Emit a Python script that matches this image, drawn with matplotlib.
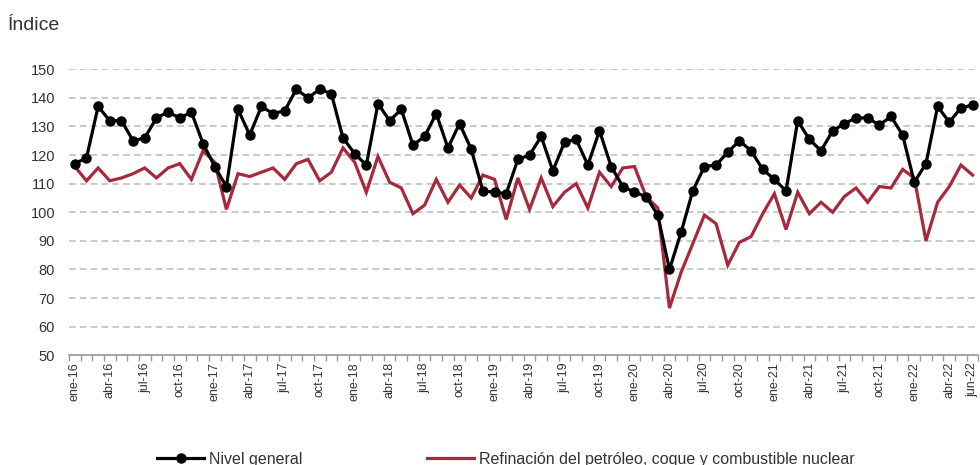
import matplotlib
matplotlib.use("Agg")
import matplotlib.pyplot as plt
import numpy as np

# ------------------------- Data -------------------------

meses = ["ene", "feb", "mar", "abr", "may", "jun",
         "jul", "ago", "sep", "oct", "nov", "dic"]
periodos = [m + "-" + str(a) for a in range(16, 23) for m in meses][:78]

nivel_general = [
    117, 119, 137, 132, 132, 125, 126, 133, 135, 133, 135, 124,   # 2016
    116, 109, 136, 127, 137, 134.5, 135.5, 143, 140, 143, 141.5, 126,   # 2017
    120.5, 116.5, 138, 132, 136, 123.5, 126.5, 134.5, 122.5, 131, 122, 107.5,   # 2018
    107, 106.5, 118.5, 120, 126.5, 114.5, 124.5, 125.5, 116.5, 128.5, 116, 109,   # 2019
    107, 105.5, 99, 80, 93, 107.5, 116, 116.5, 121, 125, 121.5, 115,   # 2020
    111.5, 107.5, 132, 125.5, 121.5, 128.5, 131, 133, 133, 130.5, 133.5, 127,   # 2021
    110.5, 117, 137, 131.5, 136.5, 137.5,   # 2022
]

refinacion = [
    116, 111, 115.5, 111, 112, 113.5, 115.5, 112, 115.5, 117, 111.5, 121.5,   # 2016
    117.5, 101, 113.5, 112.5, 114, 115.5, 111.5, 117, 118.5, 111, 114, 122.5,   # 2017
    117.5, 107, 119.5, 110.5, 108.5, 99.5, 102.5, 111.5, 103.5, 109.5, 105, 113,   # 2018
    111.5, 97.5, 112, 101, 112, 102, 107, 110, 101.5, 114, 109, 115.5,   # 2019
    116, 105.5, 101.5, 66.5, 79, 89, 99, 96, 81.5, 89.5, 91.5, 99.5,   # 2020
    106.5, 94, 107, 99.5, 103.5, 100, 105.5, 108.5, 103.5, 109, 108.5, 115,   # 2021
    112, 90, 103.5, 109, 116.5, 113,   # 2022
]

etiquetas_y = [50, 60, 70, 80, 90, 100, 110, 120, 130, 140, 150]

# ------------------------- Plot -------------------------

plt.rcParams['font.family'] = ['Liberation Sans', 'DejaVu Sans']

fig = plt.figure(figsize=(9.8, 4.65), dpi=100)
ax = fig.add_axes([0.0704, 0.236, 0.928, 0.615])

x = np.arange(len(periodos))
rojo = "#a8283c"

ax.plot(x, refinacion, color=rojo, lw=2.3, solid_joinstyle="miter",
        label="Refinación del petróleo, coque y combustible nuclear", zorder=3)
ax.plot(x, nivel_general, color="black", lw=2.3, marker="o", markersize=6.5,
        label="Nivel general", zorder=4, clip_on=False)

ax.set_xlim(-0.5, len(periodos) - 0.5)
ax.set_ylim(50, 150)
ax.set_yticks(etiquetas_y)
ax.yaxis.grid(True, color="#c0c0c0", lw=1.2, ls=(0, (4, 2.5)))
ax.set_axisbelow(True)

# ticks at boundaries, labels every quarter plus the last month
ax.set_xticks(np.arange(len(periodos) + 1) - 0.5, minor=False)
ax.set_xticklabels([])
pos_lbl = list(range(0, len(periodos), 3)) + [len(periodos) - 1]
ax.set_xticks(pos_lbl, minor=True)
ax.set_xticklabels([periodos[i] for i in pos_lbl], minor=True,
                   rotation=90, fontsize=9, color="#333333")
ax.tick_params(axis="x", which="major", length=4, width=1, color="#999999")
ax.tick_params(axis="x", which="minor", length=0, pad=5)
ax.tick_params(axis="y", length=0, labelsize=10.5, labelcolor="#333333", pad=10)

for s in ["top", "right", "left"]:
    ax.spines[s].set_visible(False)
ax.spines["bottom"].set_color("#999999")
ax.spines["bottom"].set_linewidth(1.2)

fig.text(0.008, 0.945, "Índice", fontsize=14, color="#333333", va="center")

h, l = ax.get_legend_handles_labels()
fig.legend(h[::-1], l[::-1], loc="center", bbox_to_anchor=(0.516, 0.012),
           ncol=2, frameon=False, fontsize=11.5, handlelength=2.95,
           columnspacing=7.8, handletextpad=0.3, labelcolor="#333333")

fig.savefig("out.png", dpi=100)
